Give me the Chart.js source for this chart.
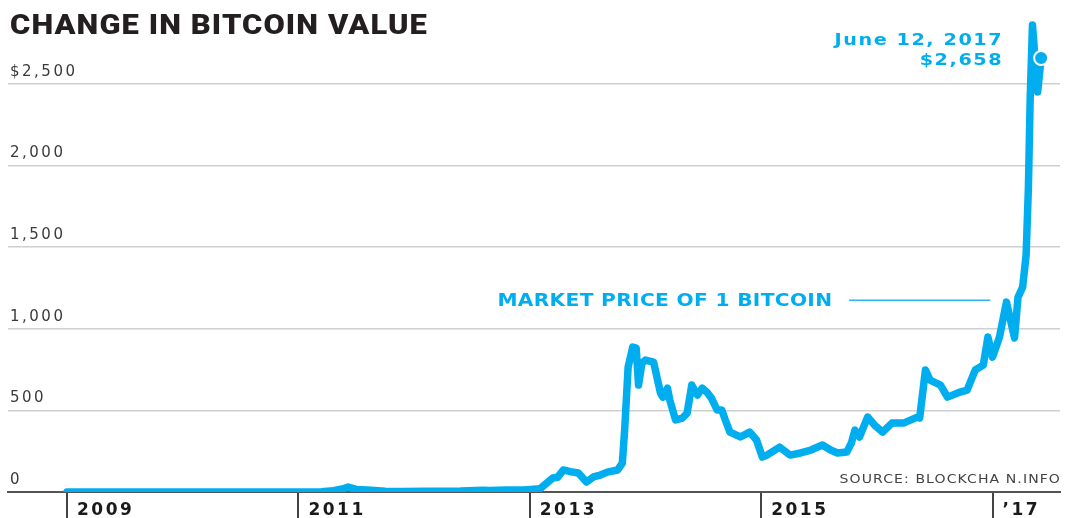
<!DOCTYPE html>
<html>
<head>
<meta charset="utf-8">
<script src="https://cdn.jsdelivr.net/npm/chart.js@4.4.0/dist/chart.umd.min.js"></script>
<style>
  body { margin: 0; background: #fff; }
  #wrap { position: relative; width: 1065px; height: 518px; }
  #title {
    position: absolute; left: 10px; top: 11px;
    font: 900 28px Roboto, "DejaVu Sans", sans-serif; line-height: 1;
    color: #231f20; letter-spacing: 1px; white-space: nowrap; transform-origin: 0 0;
  }
</style>
</head>
<body>
<div id="wrap">
  <canvas id="bitcoinChart"></canvas>
  <div id="title">CHANGE IN BITCOIN VALUE</div>
</div>
<script>
// market price of 1 bitcoin (x = decimal year)
const years = [
  2009.0, 2010.0, 2010.6, 2011.0, 2011.2, 2011.3, 2011.38, 2011.43, 2011.5, 2011.6, 2011.75, 2011.9,
  2012.1, 2012.4, 2012.6, 2012.65, 2012.8, 2012.95, 2013.09, 2013.2, 2013.24, 2013.29, 2013.35,
  2013.42, 2013.49, 2013.55, 2013.61, 2013.67, 2013.76, 2013.8, 2013.82, 2013.85, 2013.89, 2013.92,
  2013.94, 2013.97, 2014.0, 2014.07, 2014.13, 2014.15, 2014.19, 2014.21, 2014.26, 2014.32, 2014.36,
  2014.4, 2014.45, 2014.49, 2014.53, 2014.57, 2014.62, 2014.66, 2014.69, 2014.73, 2014.82, 2014.9,
  2014.96, 2015.01, 2015.05, 2015.16, 2015.25, 2015.34, 2015.43, 2015.53, 2015.6, 2015.66, 2015.74,
  2015.78, 2015.81, 2015.85, 2015.92, 2015.98, 2016.05, 2016.13, 2016.23, 2016.29, 2016.35, 2016.37,
  2016.42, 2016.46, 2016.55, 2016.61, 2016.72, 2016.78, 2016.85, 2016.92, 2016.96, 2017.0, 2017.06,
  2017.12, 2017.19, 2017.22, 2017.26, 2017.29, 2017.31, 2017.325, 2017.345, 2017.39, 2017.42
];
const prices = [
  0, 0.1, 0.07, 0.3, 1, 8, 18, 30, 16, 12, 5, 3,
  5, 6, 11, 9, 12, 13, 20, 86, 90, 135, 125,
  116, 61, 92, 104, 122, 135, 177, 379, 765, 887, 881,
  655, 790, 808, 796, 606, 581, 636, 563, 441, 453, 483,
  655, 594, 636, 612, 575, 502, 502, 441, 367, 337, 367,
  318, 214, 226, 275, 226, 239, 257, 288, 257, 239, 245,
  300, 379, 337, 459, 410, 367, 422, 422, 440, 459, 453,
  747, 685, 655, 581, 612, 624, 747, 777, 949, 826, 949,
  1163, 943, 1193, 1255, 1450, 1867, 2400, 2860, 2450, 2658
];
const yearTicks = [2009, 2011, 2013, 2015, 2017];
const priceTicks = [0, 500, 1000, 1500, 2000, 2500];
const lastLabel = ['June 12, 2017', '$2,658'];

const cyan = '#00aeef';

// wide display type: draw with a horizontal stretch
function wideText(ctx, text, x, y, sx) {
  ctx.save();
  ctx.translate(x, y);
  ctx.scale(sx, 1);
  ctx.fillText(text, 0, 0);
  ctx.restore();
}

const callouts = {
  id: 'callouts',
  beforeDraw(chart) {
    chart.ctx.letterSpacing = '2.5px';
  },
  afterDraw(chart) {
    const { ctx, chartArea, scales: { x, y } } = chart;
    const last = years.length - 1;
    const px = x.getPixelForValue(years[last]);
    const py = y.getPixelForValue(prices[last]);
    ctx.save();

    ctx.fillStyle = cyan;
    ctx.textAlign = 'right';
    ctx.textBaseline = 'alphabetic';
    ctx.font = 'bold 16px "DejaVu Sans"';
    ctx.letterSpacing = '1.3px';
    wideText(ctx, lastLabel[0], px - 38, py - 13, 1.2);
    wideText(ctx, lastLabel[1], px - 38, py + 7, 1.2);

    const my = y.getPixelForValue(1180);
    ctx.textAlign = 'left';
    ctx.font = 'bold 18px "DejaVu Sans"';
    ctx.letterSpacing = '0.3px';
    wideText(ctx, 'MARKET PRICE OF 1 BITCOIN', x.getPixelForValue(2012.72), my + 7, 1.12);
    ctx.strokeStyle = '#29b6f0';
    ctx.lineWidth = 1.5;
    ctx.beginPath();
    ctx.moveTo(x.getPixelForValue(2015.76), my + 1);
    ctx.lineTo(x.getPixelForValue(2016.98), my + 1);
    ctx.stroke();

    ctx.fillStyle = '#444';
    ctx.textAlign = 'right';
    ctx.font = '13px "DejaVu Sans"';
    ctx.letterSpacing = '1px';
    wideText(ctx, 'SOURCE: BLOCKCHA N.INFO', chartArea.right + 1, chartArea.bottom - 9, 1.08);
    ctx.restore();
  }
};

new Chart(document.getElementById('bitcoinChart'), {
  type: 'line',
  data: {
    datasets: [{
      data: years.map((yr, i) => ({ x: yr, y: prices[i] })),
      borderColor: cyan,
      borderWidth: 7.5,
      tension: 0,
      borderJoinStyle: 'round',
      borderCapStyle: 'round',
      pointRadius: c => c.dataIndex === years.length - 1 ? 7 : 0,
      pointHoverRadius: 0,
      pointBackgroundColor: cyan,
      pointBorderColor: '#fff',
      pointBorderWidth: 2
    }]
  },
  options: {
    responsive: true,
    maintainAspectRatio: false,
    animation: false,
    layout: { autoPadding: false, padding: { left: 8, right: 5, top: 10, bottom: 0 } },
    plugins: { legend: { display: false }, tooltip: { enabled: false } },
    scales: {
      x: {
        type: 'linear',
        min: 2008.49,
        max: 2017.583,
        afterFit(scale) {
          scale.height = 26;
          scale.paddingLeft = 0;
          scale.paddingRight = 0;
        },
        afterBuildTicks(scale) { scale.ticks = yearTicks.map(v => ({ value: v })); },
        border: { display: true, color: '#555', width: 2 },
        grid: { drawOnChartArea: false, drawTicks: true, tickLength: 26, color: '#444', lineWidth: 2 },
        ticks: {
          align: 'start',
          labelOffset: 10,
          padding: -18,
          maxRotation: 0,
          autoSkip: false,
          color: '#1a1a1a',
          font: { family: 'DejaVu Sans', size: 17, weight: 'bold' },
          callback: v => v === 2017 ? '\u201917' : String(v)
        }
      },
      y: {
        min: 0,
        max: 2946,
        afterFit(scale) { scale.width = 0; },
        afterBuildTicks(scale) { scale.ticks = priceTicks.map(v => ({ value: v })); },
        border: { display: false },
        grid: {
          drawTicks: false,
          color: c => c.tick.value === 0 ? '#555' : '#cfcfcf',
          lineWidth: c => c.tick.value === 0 ? 2 : 1.5
        },
        ticks: {
          mirror: true,
          padding: 2,
          labelOffset: -12,
          color: '#3a3a3a',
          font: { family: 'DejaVu Sans', size: 15 },
          callback: v => v === 2500 ? '$2,500' : v.toLocaleString('en-US')
        }
      }
    }
  },
  plugins: [callouts]
});

const title = document.getElementById('title');
const w = title.getBoundingClientRect().width;
title.style.transform = 'scaleX(' + (418 / w) + ')';
</script>
</body>
</html>
